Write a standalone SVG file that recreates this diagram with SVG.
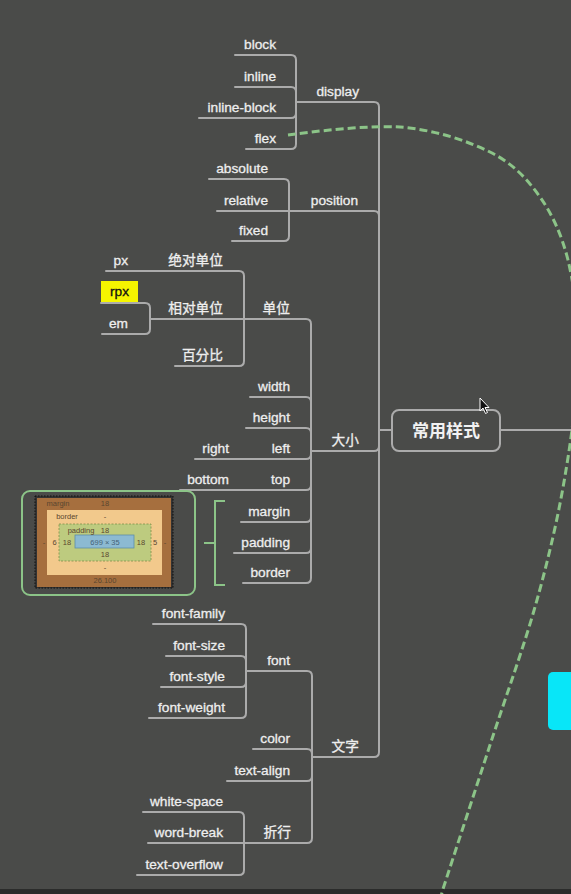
<svg xmlns="http://www.w3.org/2000/svg" width="571" height="894" viewBox="0 0 571 894">
<style>
.bg{fill:#4a4b49}
.c{fill:none;stroke:#ababab;stroke-width:2;stroke-linecap:round}
.t{font-family:"Liberation Sans","Noto Sans CJK SC",sans-serif;font-size:13.7px;fill:#eeeeee;stroke:#eeeeee;stroke-width:0.3;text-anchor:end}
.root{font-family:"Liberation Sans","Noto Sans CJK SC",sans-serif;font-size:17px;font-weight:bold;fill:#f2f2f2;text-anchor:middle}
.dash{fill:none;stroke:#8cc488;stroke-width:3;stroke-dasharray:8 4}
.g{fill:none;stroke:#8cc488;stroke-width:2}
.bm{font-family:"Liberation Sans",sans-serif;font-size:7.5px;fill:#5a4630;text-anchor:middle}
</style>
<rect class="bg" x="0" y="0" width="571" height="894"/>
<rect x="0" y="889" width="571" height="5" fill="#2b2c2b"/>

<g id="connectors">
  <!-- root -->
  <path class="c" d="M500,430 H571"/>
  <path class="c" d="M392,430 H379 V107 Q379,102 374,102 H296"/>
  <path class="c" d="M379,430 V216 Q379,211 374,211 H289"/>
  <path class="c" d="M379,430 V446 Q379,451 374,451 H311"/>
  <path class="c" d="M379,430 V752 Q379,757 374,757 H312"/>
  <!-- display -->
  <path class="c" d="M296,102 V60 Q296,55 291,55 H235"/>
  <path class="c" d="M296,102 V92 Q296,87 291,87 H235"/>
  <path class="c" d="M296,102 V113 Q296,118 291,118 H199"/>
  <path class="c" d="M296,102 V144 Q296,149 291,149 H246"/>
  <!-- position -->
  <path class="c" d="M289,211 V184 Q289,179 284,179 H209"/>
  <path class="c" d="M289,211 H217"/>
  <path class="c" d="M289,211 V236 Q289,241 284,241 H232"/>
  <!-- 大小 -->
  <path class="c" d="M311,451 V324 Q311,319 306,319 H244"/>
  <path class="c" d="M311,451 V402 Q311,397 306,397 H250"/>
  <path class="c" d="M311,451 V433 Q311,428 306,428 H246"/>
  <path class="c" d="M311,451 V454 Q311,459 306,459 H195"/>
  <path class="c" d="M311,451 V485 Q311,490 306,490 H180"/>
  <path class="c" d="M311,451 V517 Q311,522 306,522 H241"/>
  <path class="c" d="M311,451 V548 Q311,553 306,553 H234"/>
  <path class="c" d="M311,451 V578 Q311,583 306,583 H243"/>
  <!-- 单位 -->
  <path class="c" d="M244,319 V276 Q244,271 239,271 H106"/>
  <path class="c" d="M244,319 H150"/>
  <path class="c" d="M244,319 V361 Q244,366 239,366 H175"/>
  <!-- 相对单位 -->
  <path class="c" d="M150,319 V308 Q150,303 145,303 H101"/>
  <path class="c" d="M150,319 V329 Q150,334 145,334 H102"/>
  <!-- 文字 -->
  <path class="c" d="M312,757 V676 Q312,671 307,671 H246"/>
  <path class="c" d="M312,757 V754 Q312,749 307,749 H253"/>
  <path class="c" d="M312,757 V776 Q312,781 307,781 H227"/>
  <path class="c" d="M312,757 V838 Q312,843 307,843 H244"/>
  <!-- font -->
  <path class="c" d="M246,671 V629 Q246,624 241,624 H153"/>
  <path class="c" d="M246,671 V661 Q246,656 241,656 H166"/>
  <path class="c" d="M246,671 V682 Q246,687 241,687 H161"/>
  <path class="c" d="M246,671 V713 Q246,718 241,718 H149"/>
  <!-- 折行 -->
  <path class="c" d="M244,843 V817 Q244,812 239,812 H143"/>
  <path class="c" d="M244,843 H148"/>
  <path class="c" d="M244,843 V870 Q244,875 239,875 H137"/>
  <!-- green bracket -->
  <path class="g" d="M225,501 H215 V585 H225 M204,543 H215"/>
  <!-- dashed relation -->
  <path class="dash" d="M288,135 C310,132 366,125 400,127 C433.7,129.8 466.7,140.3 490,152 C513.3,163.7 527.2,179 540,197 C552.8,215 562,236 568,260 C574,285.5 578,315 578,350 C578,385 573,428.3 566,470 C559.3,511.7 549.7,554.2 537,600 C524.3,645.8 505.7,696.8 490,745 C474.3,793.2 453,858.2 443,889 L440,900"/>
</g>

<g id="root">
  <rect x="392" y="410" width="108" height="41" rx="7" fill="#4a4b49" stroke="#ababab" stroke-width="2"/>
  <text class="root" x="446" y="436.5">常用样式</text>
</g>
<g id="display"><text class="t" x="359" y="95.5">display</text></g>
<g id="block"><text class="t" x="276" y="48.5">block</text></g>
<g id="inline"><text class="t" x="276" y="80.5">inline</text></g>
<g id="inline-block"><text class="t" x="276" y="111.5">inline-block</text></g>
<g id="flex"><text class="t" x="276" y="142.5">flex</text></g>
<g id="position"><text class="t" x="358" y="204.5">position</text></g>
<g id="absolute"><text class="t" x="268" y="172.5">absolute</text></g>
<g id="relative"><text class="t" x="268" y="204.5">relative</text></g>
<g id="fixed"><text class="t" x="268" y="234.5">fixed</text></g>

<g id="daxiao"><text class="t" x="359" y="444.5">大小</text></g>
<g id="danwei"><text class="t" x="290" y="312.5">单位</text></g>
<g id="absunit"><text class="t" x="223" y="264.5">绝对单位</text></g>
<g id="px"><text class="t" x="128" y="264.5">px</text></g>
<g id="relunit"><text class="t" x="223" y="312.5">相对单位</text></g>
<g id="rpx">
  <rect x="101" y="281" width="37" height="21" fill="#f5f500"/>
  <text class="t" x="119.5" y="296" style="fill:#111;stroke:#111;text-anchor:middle">rpx</text>
</g>
<g id="em"><text class="t" x="128" y="327.5">em</text></g>
<g id="percent"><text class="t" x="223" y="359.5">百分比</text></g>
<g id="width"><text class="t" x="290" y="390.5">width</text></g>
<g id="height"><text class="t" x="290" y="421.5">height</text></g>
<g id="left"><text class="t" x="290" y="452.5">left</text></g>
<g id="right"><text class="t" x="229" y="452.5">right</text></g>
<g id="top"><text class="t" x="290" y="483.5">top</text></g>
<g id="bottom"><text class="t" x="229" y="483.5">bottom</text></g>
<g id="margin"><text class="t" x="290" y="515.5">margin</text></g>
<g id="padding"><text class="t" x="290" y="546.5">padding</text></g>
<g id="border"><text class="t" x="290" y="576.5">border</text></g>

<g id="boxmodel">
  <rect x="22" y="491" width="173" height="104" rx="8" fill="#4a4b49" stroke="#8cc488" stroke-width="2"/>
  <rect x="35" y="496" width="138" height="92" fill="#333" stroke="#111" stroke-width="1" stroke-dasharray="1.5 1.5"/>
  <rect x="37" y="498" width="134" height="89" fill="#a66f3e"/>
  <rect x="47" y="510" width="115" height="65" fill="#f2c98c"/>
  <rect x="59" y="524" width="92" height="37" fill="#bdcb7f" stroke="#7f8f4a" stroke-width="0.8" stroke-dasharray="2 1.5"/>
  <rect x="75" y="535" width="59" height="13" fill="#8cbad2" stroke="#5e8ea8" stroke-width="0.8"/>
  <text class="bm" x="58" y="506">margin</text>
  <text class="bm" x="105" y="506">18</text>
  <text class="bm" x="67" y="519">border</text>
  <text class="bm" x="105" y="519">-</text>
  <text class="bm" x="81" y="532.5">padding</text>
  <text class="bm" x="105" y="532.5">18</text>
  <text class="bm" x="44" y="544.5">-</text>
  <text class="bm" x="54.5" y="544.5">6</text>
  <text class="bm" x="67" y="544.5">18</text>
  <text class="bm" x="105" y="544.5" style="fill:#456278">699 × 35</text>
  <text class="bm" x="141" y="544.5">18</text>
  <text class="bm" x="155" y="544.5">5</text>
  <text class="bm" x="165" y="544.5">-</text>
  <text class="bm" x="105" y="557">18</text>
  <text class="bm" x="105" y="570">-</text>
  <text class="bm" x="105" y="583">26.100</text>
</g>

<g id="wenzi"><text class="t" x="359" y="750.5">文字</text></g>
<g id="font"><text class="t" x="290" y="664.5">font</text></g>
<g id="font-family"><text class="t" x="225" y="617.5">font-family</text></g>
<g id="font-size"><text class="t" x="225" y="649.5">font-size</text></g>
<g id="font-style"><text class="t" x="225" y="680.5">font-style</text></g>
<g id="font-weight"><text class="t" x="225" y="711.5">font-weight</text></g>
<g id="color"><text class="t" x="290" y="742.5">color</text></g>
<g id="text-align"><text class="t" x="290" y="774.5">text-align</text></g>
<g id="zhehang"><text class="t" x="291" y="836.5">折行</text></g>
<g id="white-space"><text class="t" x="223" y="805.5">white-space</text></g>
<g id="word-break"><text class="t" x="223" y="836.5">word-break</text></g>
<g id="text-overflow"><text class="t" x="223" y="868.5">text-overflow</text></g>

<g id="side-node"><rect x="548" y="672" width="30" height="58" rx="5" fill="#08e6f8"/></g>
<g id="cursor"><path d="M480,398 L480,411 L483,408 L485.5,413.5 L487.5,412.5 L485,407.5 L489,407.5 Z" fill="#111" stroke="#fff" stroke-width="1"/></g>
</svg>
